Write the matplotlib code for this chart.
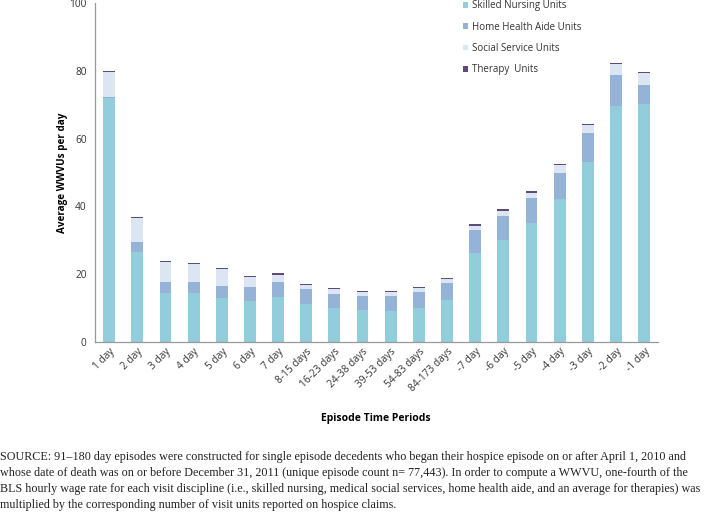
import matplotlib
matplotlib.use("Agg")
import matplotlib.pyplot as plt
import numpy as np

# DATA
periods = ["1 day", "2 day", "3 day", "4 day", "5 day", "6 day", "7 day",
           "8-15 days", "16-23 days", "24-38 days", "39-53 days", "54-83 days",
           "84-173 days", "-7 day", "-6 day", "-5 day", "-4 day", "-3 day",
           "-2 day", "-1 day"]
skilled_nursing = [72.0, 26.6, 14.6, 14.5, 13.0, 12.2, 13.2, 11.3, 10.0, 9.3,
                   9.1, 10.0, 12.3, 26.3, 30.1, 35.1, 42.2, 53.1, 69.6, 70.2]
home_health_aide = [0.3, 2.9, 3.1, 3.3, 3.6, 3.9, 4.5, 4.2, 4.2, 4.3,
                    4.6, 4.7, 5.2, 6.6, 7.0, 7.3, 7.7, 8.5, 9.3, 5.7]
social_service = [7.3, 7.2, 5.9, 5.3, 4.9, 3.0, 2.2, 1.4, 1.4, 1.1,
                  1.1, 1.1, 1.1, 1.4, 1.6, 1.7, 2.2, 2.3, 3.1, 3.5]
therapy = [0.4, 0.3, 0.3, 0.2, 0.3, 0.3, 0.4, 0.2, 0.3, 0.4,
           0.3, 0.4, 0.4, 0.5, 0.4, 0.6, 0.4, 0.4, 0.4, 0.2]

series_names = ["Skilled Nursing Units", "Home Health Aide Units",
                "Social Service Units", "Therapy  Units"]
colors = ["#92CDDC", "#95B3D7", "#DCE6F2", "#604A7B"]

source_text = ("SOURCE: 91\u2013180 day episodes were constructed for single episode decedents who began their hospice episode on or after April 1, 2010 and\n"
               "whose date of death was on or before December 31, 2011 (unique episode count n= 77,443). In order to compute a WWVU, one-fourth of the\n"
               "BLS hourly wage rate for each visit discipline (i.e., skilled nursing, medical social services, home health aide, and an average for therapies) was\n"
               "multiplied by the corresponding number of visit units reported on hospice claims.")

plt.rcParams['font.family'] = ['Open Sans', 'DejaVu Sans']

fig = plt.figure(figsize=(7.04, 5.17), dpi=100)
ax = fig.add_axes([0.135, 0.3385, 0.8, 0.6555])

x = np.arange(len(periods))
bottom = np.zeros(len(periods))
for vals, name, col in zip([skilled_nursing, home_health_aide, social_service, therapy],
                           series_names, colors):
    ax.bar(x, vals, width=0.42, bottom=bottom, color=col, label=name)
    bottom += np.array(vals)

ax.set_xlim(-0.5, len(periods) - 0.5)
ax.set_ylim(0, 100)
ax.set_yticks([0, 20, 40, 60, 80, 100])
ax.tick_params(axis='y', length=0, labelsize=7.3, colors='#333333', pad=6)
ax.tick_params(axis='x', length=0, labelsize=7.3, colors='#333333', pad=3)
ax.set_xticks(x)
ax.set_xticklabels(periods, rotation=45, ha='right', rotation_mode='anchor')
for s in ['top', 'right']:
    ax.spines[s].set_visible(False)
for s in ['left', 'bottom']:
    ax.spines[s].set_color('#999999')
    ax.spines[s].set_linewidth(0.9)

ax.set_ylabel("Average WWVUs per day", fontsize=7.1, fontweight='bold', labelpad=1)
fig.text(0.534, 0.191, "Episode Time Periods", fontsize=7.5, fontweight='bold',
         ha='center', va='center')

leg = fig.legend(loc='upper left', bbox_to_anchor=(0.645, 1.016), frameon=False,
                 fontsize=7, handlelength=0.55, handleheight=0.55, handletextpad=0.35,
                 labelspacing=1.05, labelcolor='#333333')

fig.text(0.0, 0.127, source_text, fontsize=8.75, family=['Liberation Serif'],
         ha='left', va='top', color='#222222', linespacing=1.42)

fig.savefig("out.png", dpi=100)
